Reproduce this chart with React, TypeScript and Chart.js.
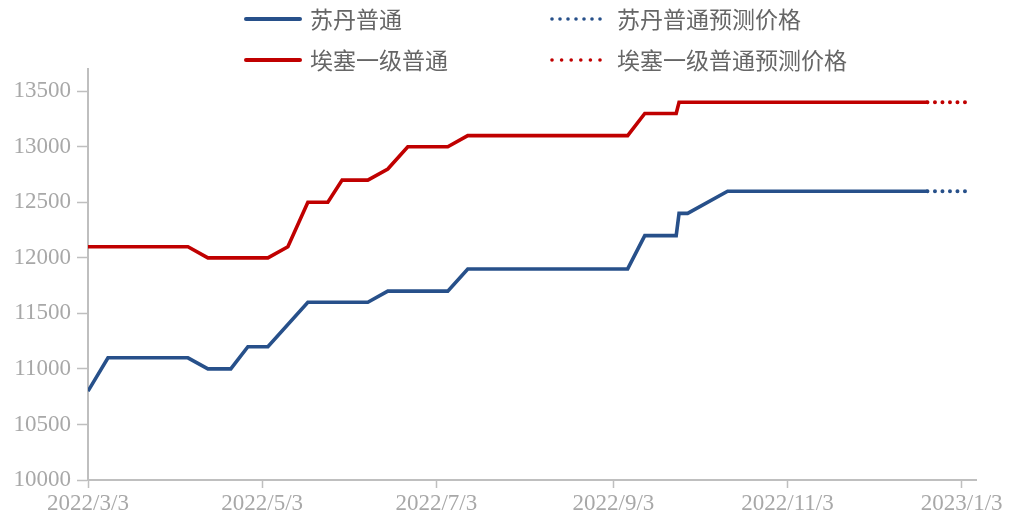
import React, { useEffect, useRef } from "react";
import { Chart, registerables } from "chart.js";

Chart.register(...registerables);

// ---- data ----
const sudanDates = [
  "2022/3/3", "2022/3/10", "2022/4/7", "2022/4/14", "2022/4/22", "2022/4/28",
  "2022/5/5", "2022/5/19", "2022/6/9", "2022/6/16", "2022/7/7", "2022/7/14",
  "2022/9/8", "2022/9/14", "2022/9/25", "2022/9/26", "2022/9/29", "2022/10/13",
  "2022/12/22",
];
const sudanPrices = [
  10800, 11100, 11100, 11000, 11000, 11200,
  11200, 11600, 11600, 11700, 11700, 11900,
  11900, 12200, 12200, 12400, 12400, 12600,
  12600,
];
const ethiopiaDates = [
  "2022/3/3", "2022/4/7", "2022/4/14", "2022/5/5", "2022/5/12", "2022/5/19",
  "2022/5/26", "2022/5/31", "2022/6/9", "2022/6/16", "2022/6/23", "2022/7/7",
  "2022/7/14", "2022/9/8", "2022/9/14", "2022/9/25", "2022/9/26", "2022/12/22",
];
const ethiopiaPrices = [
  12100, 12100, 12000, 12000, 12100, 12500,
  12500, 12700, 12700, 12800, 13000, 13000,
  13100, 13100, 13300, 13300, 13400, 13400,
];
const forecastDates = ["2022/12/22", "2023/1/6"];
const sudanForecast = [12600, 12600];
const ethiopiaForecast = [13400, 13400];

const xTickLabels = ["2022/3/3", "2022/5/3", "2022/7/3", "2022/9/3", "2022/11/3", "2023/1/3"];
const yTickValues = [10000, 10500, 11000, 11500, 12000, 12500, 13000, 13500];
const xMaxDate = "2023/1/8";

const seriesNames = ["苏丹普通", "苏丹普通预测价格", "埃塞一级普通", "埃塞一级普通预测价格"];

const BLUE = "#27508a";
const RED = "#c00000";
const AXIS = "#bfbfbf";
const LABEL = "#a8a8a8";

const ORIGIN = Date.UTC(2022, 2, 3);
const toDay = (s: string) => {
  const [y, m, d] = s.split("/").map(Number);
  return (Date.UTC(y, m - 1, d) - ORIGIN) / 86400000;
};
const toPoints = (dates: string[], vals: number[]) =>
  dates.map((d, i) => ({ x: toDay(d), y: vals[i] }));

const legendPlugin = {
  id: "customLegend",
  afterDraw(chart: any) {
    const ctx = chart.ctx;
    ctx.save();
    const rows = [
      { y: 19, color: BLUE, solid: seriesNames[0], dotted: seriesNames[1], dots: 7 },
      { y: 60, color: RED, solid: seriesNames[2], dotted: seriesNames[3], dots: 6 },
    ];
    ctx.font = '23px "Noto Sans CJK SC"';
    ctx.textBaseline = "middle";
    ctx.textAlign = "left";
    for (const r of rows) {
      ctx.strokeStyle = r.color;
      ctx.lineWidth = 4;
      ctx.lineCap = "round";
      ctx.beginPath();
      ctx.moveTo(246, r.y);
      ctx.lineTo(300, r.y);
      ctx.stroke();
      ctx.fillStyle = "#666666";
      ctx.fillText(r.solid, 310, r.y);
      ctx.fillStyle = r.color;
      const x0 = 552, x1 = 600;
      for (let i = 0; i < r.dots; i++) {
        const x = x0 + ((x1 - x0) * i) / (r.dots - 1);
        ctx.beginPath();
        ctx.arc(x, r.y, 1.8, 0, Math.PI * 2);
        ctx.fill();
      }
      ctx.fillStyle = "#666666";
      ctx.fillText(r.dotted, 617, r.y);
    }
    ctx.restore();
  },
};

export default function App() {
  const ref = useRef<HTMLCanvasElement | null>(null);
  useEffect(() => {
    if (!ref.current) return;
    const chart = new Chart(ref.current, {
      type: "line",
      data: {
        datasets: [
          {
            label: seriesNames[0],
            data: toPoints(sudanDates, sudanPrices),
            borderColor: BLUE,
            borderWidth: 3.6,
            pointRadius: 0,
            tension: 0,
          },
          {
            label: seriesNames[1],
            data: toPoints(forecastDates, sudanForecast),
            borderColor: BLUE,
            borderWidth: 4,
            borderDash: [0, 7.5],
            borderCapStyle: "round",
            pointRadius: 0,
          },
          {
            label: seriesNames[2],
            data: toPoints(ethiopiaDates, ethiopiaPrices),
            borderColor: RED,
            borderWidth: 3.6,
            pointRadius: 0,
            tension: 0,
          },
          {
            label: seriesNames[3],
            data: toPoints(forecastDates, ethiopiaForecast),
            borderColor: RED,
            borderWidth: 4,
            borderDash: [0, 7.5],
            borderCapStyle: "round",
            pointRadius: 0,
          },
        ] as any,
      },
      options: {
        animation: false,
        responsive: false,
        devicePixelRatio: 1,
        layout: { padding: { top: 69, right: 35, left: 0, bottom: 0 } },
        plugins: { legend: { display: false }, tooltip: { enabled: false } },
        scales: {
          x: {
            type: "linear",
            min: 0,
            max: toDay(xMaxDate),
            afterBuildTicks: (axis: any) => {
              axis.ticks = xTickLabels.map((l) => ({ value: toDay(l) }));
            },
            afterFit: (axis: any) => {
              axis.height = 44;
            },
            ticks: {
              autoSkip: false,
              maxRotation: 0,
              padding: 2,
              color: LABEL,
              font: { family: '"Liberation Serif", "Times New Roman", serif', size: 23 },
              callback: (v: any) => {
                const f = xTickLabels.find((l) => toDay(l) === v);
                return f ?? "";
              },
            },
            grid: {
              drawOnChartArea: false,
              drawTicks: true,
              tickLength: 8,
              tickColor: AXIS,
              tickWidth: 1.5,
            },
            border: { color: AXIS, width: 2 },
          },
          y: {
            type: "linear",
            min: 10000,
            max: 13700,
            afterBuildTicks: (axis: any) => {
              axis.ticks = yTickValues.map((v) => ({ value: v }));
            },
            afterFit: (axis: any) => {
              axis.width = 88;
            },
            ticks: {
              autoSkip: false,
              padding: 6,
              color: LABEL,
              font: { family: '"Liberation Serif", "Times New Roman", serif', size: 23 },
              callback: (v: any) => String(v),
            },
            grid: {
              drawOnChartArea: false,
              drawTicks: true,
              tickLength: 11,
              tickColor: AXIS,
              tickWidth: 1.5,
            },
            border: { color: AXIS, width: 2 },
          },
        },
      } as any,
      plugins: [legendPlugin],
    });
    return () => chart.destroy();
  }, []);
  return (
    <div style={{ position: "absolute", left: 0, top: 0, width: 1011, height: 524, background: "#fff" }}>
      <canvas ref={ref} width={1011} height={524} style={{ display: "block" }} />
    </div>
  );
}
